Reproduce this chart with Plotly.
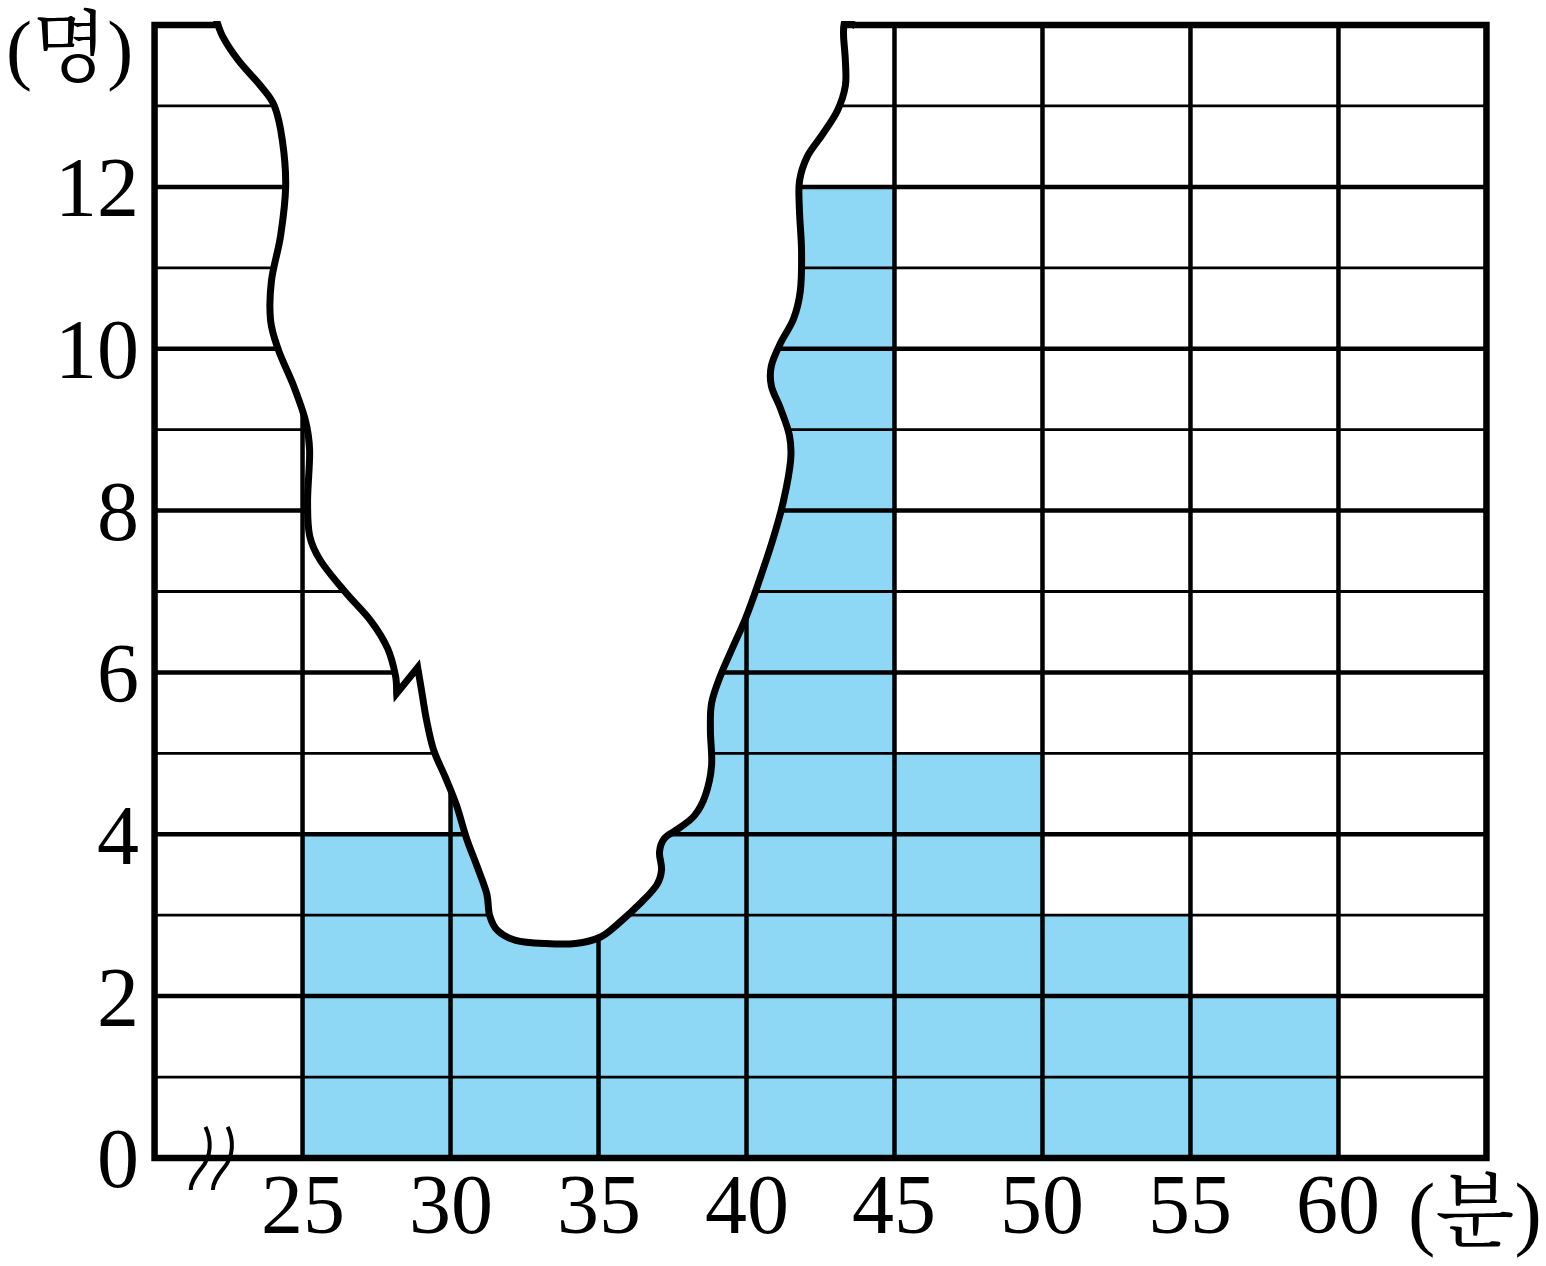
import plotly.graph_objects as go

# ---------------- data ----------------
bin_edges = [25, 30, 35, 40, 45, 50, 55, 60]          # 분
counts = [4, 6, 8, 12, 5, 3, 2]                        # 명 (30~40 partly hidden by the tear)
x_ticks = [25, 30, 35, 40, 45, 50, 55, 60]
y_ticks = [0, 2, 4, 6, 8, 10, 12]
y_grid = list(range(1, 14))
x_unit = "(분)"
y_unit = "(명)"

# torn-paper outline (data units), two smooth pieces joined by a sharp zig-zag
tear_left = [(22.06, 14.10), (22.30, 13.86), (22.84, 13.56), (23.58, 13.25), (24.05, 13.00),
             (24.32, 12.57), (24.43, 12.01), (24.26, 11.40), (23.95, 10.84), (23.92, 10.35),
             (24.19, 9.98), (24.70, 9.54), (25.10, 9.11), (25.24, 8.74), (25.17, 8.12),
             (25.24, 7.69), (25.61, 7.38), (26.45, 6.99), (27.30, 6.64), (27.87, 6.30),
             (28.14, 5.96), (28.18, 5.74)]
tear_right = [(28.89, 6.06), (29.02, 5.78), (29.19, 5.41), (29.43, 5.04), (29.83, 4.70),
              (30.20, 4.36), (30.54, 3.95), (30.88, 3.62), (31.22, 3.27), (31.32, 3.00),
              (31.59, 2.81), (32.20, 2.69), (33.21, 2.65), (34.22, 2.65), (35.07, 2.73),
              (35.68, 2.90), (36.42, 3.15), (36.96, 3.37), (37.13, 3.56), (37.06, 3.78),
              (37.23, 3.95), (37.70, 4.07), (38.24, 4.23), (38.61, 4.48), (38.82, 4.85),
              (38.78, 5.28), (38.82, 5.62), (39.12, 5.96), (39.56, 6.33), (39.97, 6.67),
              (40.37, 7.07), (40.88, 7.63), (41.25, 8.12), (41.49, 8.62), (41.45, 8.93),
              (41.15, 9.26), (40.84, 9.54), (40.84, 9.79), (41.15, 10.07), (41.59, 10.37),
              (41.82, 10.72), (41.86, 11.21), (41.79, 11.70), (41.79, 12.07), (42.06, 12.38),
              (42.57, 12.65), (43.07, 12.94), (43.34, 13.25), (43.34, 13.56), (43.28, 13.86),
              (43.30, 14.02), (43.40, 14.05), (43.68, 13.99)]

BAR_COLOR = "#8ED8F6"
FONT = "Liberation Serif, Noto Serif CJK KR, Noto Sans CJK KR, serif"


def smooth(points, start=True):
    """Catmull-Rom spline through points as SVG cubic commands."""
    pts = [points[0]] + points + [points[-1]]
    out = ["M %.4f,%.4f" % points[0]] if start else ["L %.4f,%.4f" % points[0]]
    for i in range(1, len(pts) - 2):
        p0, p1, p2, p3 = pts[i - 1], pts[i], pts[i + 1], pts[i + 2]
        c1 = (p1[0] + (p2[0] - p0[0]) / 6, p1[1] + (p2[1] - p0[1]) / 6)
        c2 = (p2[0] - (p3[0] - p1[0]) / 6, p2[1] - (p3[1] - p1[1]) / 6)
        out.append("C %.4f,%.4f %.4f,%.4f %.4f,%.4f" % (c1 + c2 + p2))
    return " ".join(out)


outline_path = smooth(tear_left) + " " + smooth(tear_right, start=False)
fill_path = outline_path + " L 43.45,14.3 L 22.0,14.3 Z"

mids = [(a + b) / 2 for a, b in zip(bin_edges[:-1], bin_edges[1:])]
widths = [b - a for a, b in zip(bin_edges[:-1], bin_edges[1:])]

fig = go.Figure()
fig.add_trace(go.Bar(x=mids, y=counts, width=widths, marker=dict(color=BAR_COLOR, line=dict(width=0)),
                     hoverinfo="skip"))

shapes = []
for v in y_grid:
    shapes.append(dict(type="line", xref="x", yref="y", x0=20, x1=65, y0=v, y1=v,
                       line=dict(color="black", width=4.5 if v % 2 == 0 else 2.8), layer="above"))
for v in x_ticks:
    shapes.append(dict(type="line", xref="x", yref="y", x0=v, x1=v, y0=0, y1=14,
                       line=dict(color="black", width=4.5), layer="above"))
shapes.append(dict(type="rect", xref="x", yref="y", x0=20, x1=65, y0=0, y1=14,
                   line=dict(color="black", width=6.5), fillcolor="rgba(0,0,0,0)", layer="above"))
shapes.append(dict(type="path", xref="x", yref="y", path=fill_path, fillcolor="white",
                   line=dict(width=0), layer="above"))
shapes.append(dict(type="path", xref="x", yref="y", path=outline_path, fillcolor="rgba(0,0,0,0)",
                   line=dict(color="black", width=7), layer="above"))
# axis break mark
for dx in (0.0, 0.75):
    p = ("M %.3f,0.0307 C %.3f,0.0193 %.3f,0.0053 %.3f,-0.0053 C %.3f,-0.0131 %.3f,-0.0184 %.3f,-0.0245"
         % (21.72 + dx, 21.93 + dx, 21.93 + dx, 21.59 + dx, 21.35 + dx, 21.22 + dx, 21.22 + dx))
    shapes.append(dict(type="path", xref="x", yref="paper", path=p, fillcolor="rgba(0,0,0,0)",
                       line=dict(color="black", width=4), layer="above"))

annotations = [
    dict(text=y_unit, xref="paper", yref="paper", x=-0.11, y=0.976, showarrow=False,
         font=dict(family=FONT, size=78, color="black"), xanchor="left", yanchor="middle"),
    dict(text=x_unit, xref="paper", yref="paper", x=1.04, y=-0.044, showarrow=False,
         font=dict(family=FONT, size=82, color="black"), xanchor="right", yanchor="middle"),
]
for v in x_ticks:
    annotations.append(dict(text=str(v), xref="x", yref="paper", x=v, y=-0.037, showarrow=False,
                            font=dict(family=FONT, size=84, color="black"),
                            xanchor="center", yanchor="middle"))

fig.update_layout(
    width=1546, height=1266,
    margin=dict(l=151, r=56, t=21, b=104),
    paper_bgcolor="white", plot_bgcolor="white",
    showlegend=False, bargap=0,
    shapes=shapes,
    annotations=annotations,
    xaxis=dict(range=[19.88, 65.12], showticklabels=False, automargin=False,
               showgrid=False, zeroline=False, showline=False, ticks="", fixedrange=True),
    yaxis=dict(range=[-0.05, 14.05], tickvals=y_ticks, ticktext=[str(v) for v in y_ticks],
               showgrid=False, zeroline=False, showline=False, ticks="", automargin=False,
               ticklabelstandoff=11,
               tickfont=dict(family=FONT, size=84, color="black"), fixedrange=True),
)

fig.write_html("out.html", config={"displayModeBar": False},
               post_script="document.body.style.margin='0';")
